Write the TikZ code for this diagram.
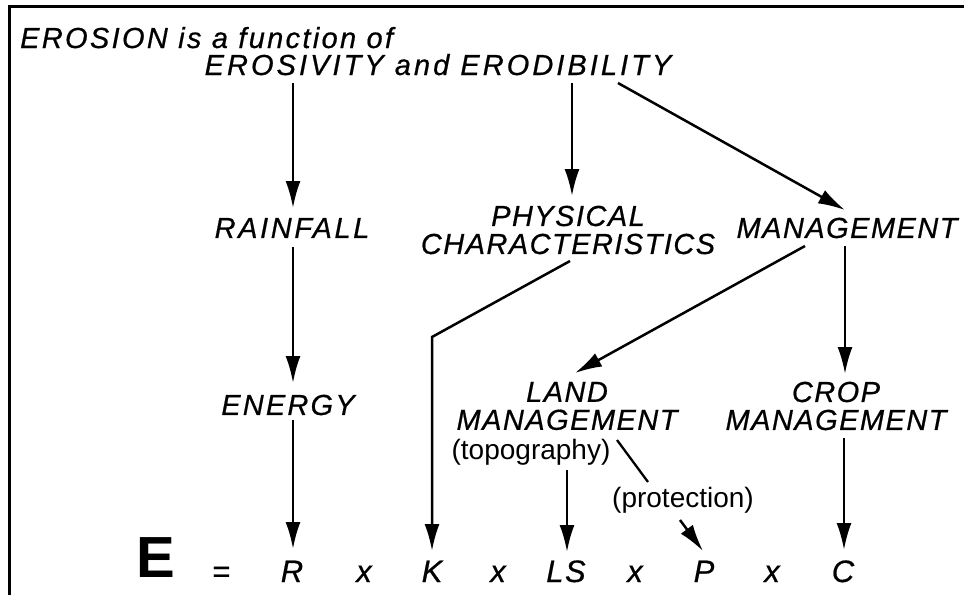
\documentclass[tikz,border=0pt]{standalone}
\usepackage{fontspec}
\setmainfont{Liberation Sans}
\newfontfamily\lettering[LetterSpace=5,FakeBold=0.6]{Liberation Sans}
\usetikzlibrary{arrows.meta}
\begin{document}
\begin{tikzpicture}[x=1pt,y=-1pt,
  lab/.style={font=\lettering\itshape\fontsize{29}{28}\selectfont, inner sep=0pt, align=center},
  spaced/.style={font=\lettering\itshape\fontsize{29}{28}\selectfont\addfontfeature{LetterSpace=#1}},
  sym/.style={font=\lettering\itshape\fontsize{31}{31}\selectfont, inner sep=0pt, anchor=base},
  paren/.style={font=\fontsize{28}{28}\selectfont, inner sep=0pt},
  arr/.style={-{Latex[length=27pt,width=15pt]}, line width=2.5pt},
  ln/.style={line width=2.3pt}]
\useasboundingbox (0,0) rectangle (964,595);
\fill[white] (0,0) rectangle (964,595);
% frame
\draw[line width=3pt] (964,6.5) -- (9.5,6.5) -- (9.5,595);
% texts
\node[lab, spaced=8, anchor=base west] (title) at (20,48) {EROSION is a function of};
\node[lab, spaced=10.5, anchor=base] (ee) at (438,75) {EROSIVITY and ERODIBILITY};
\node[lab, spaced=9] (rain) at (292,228) {RAINFALL};
\node[lab] (phys) at (568,230) {PHYSICAL\\CHARACTERISTICS};
\node[lab] (mgmt) at (847,228) {MANAGEMENT};
\node[lab, spaced=7.5] (energy) at (288,405) {ENERGY};
\node[lab] (land) at (567,406) {LAND\\MANAGEMENT};
\node[lab] (crop) at (836,406) {CROP\\MANAGEMENT};
\node[paren] (topo) at (531,452) {(topography)};
\node[paren] (prot) at (683,500) {(protection)};
% equation
\node[inner sep=0pt, anchor=base, font=\bfseries\fontsize{58}{58}\selectfont] (E) at (156,577) {E};
\node[sym] (eq) at (221,582) {=};
\node[sym] (R) at (292,582) {R};
\node[sym] (x1) at (364,582) {x};
\node[sym] (K) at (432,582) {K};
\node[sym] (x2) at (498,582) {x};
\node[sym] (LS) at (566,582) {LS};
\node[sym] (x3) at (635,582) {x};
\node[sym] (P) at (704,582) {P};
\node[sym] (x4) at (772,582) {x};
\node[sym] (C) at (843,582) {C};
% connector end points
\coordinate (a1s) at (293,83);  \coordinate (a1e) at (293,208);
\coordinate (a2s) at (572,83);  \coordinate (a2e) at (572,196);
\coordinate (a3s) at (618,83);  \coordinate (a3e) at (845,210);
\coordinate (a4s) at (293,247); \coordinate (a4e) at (293,383);
\coordinate (a5s) at (570,261); \coordinate (a5b) at (432,337); \coordinate (a5e) at (432,551);
\coordinate (a6s) at (805,246); \coordinate (a6e) at (575,373);
\coordinate (a7s) at (845,246); \coordinate (a7e) at (845,374);
\coordinate (a8s) at (293,420); \coordinate (a8e) at (293,549);
\coordinate (a9s) at (567,470); \coordinate (a9e) at (567,552);
\coordinate (l1s) at (617,440); \coordinate (l1e) at (648,482);
\coordinate (a10s) at (680,520); \coordinate (a10e) at (703,551);
\coordinate (a11s) at (844,438); \coordinate (a11e) at (844,550);
% connectors
\draw[arr] (a1s) -- (a1e);
\draw[arr] (a2s) -- (a2e);
\draw[arr] (a3s) -- (a3e);
\draw[arr] (a4s) -- (a4e);
\draw[arr] (a5s) -- (a5b) -- (a5e);
\draw[arr] (a6s) -- (a6e);
\draw[arr] (a7s) -- (a7e);
\draw[arr] (a8s) -- (a8e);
\draw[arr] (a9s) -- (a9e);
\draw[ln] (l1s) -- (l1e);
\draw[arr] (a10s) -- (a10e);
\draw[arr] (a11s) -- (a11e);
\end{tikzpicture}
\end{document}
